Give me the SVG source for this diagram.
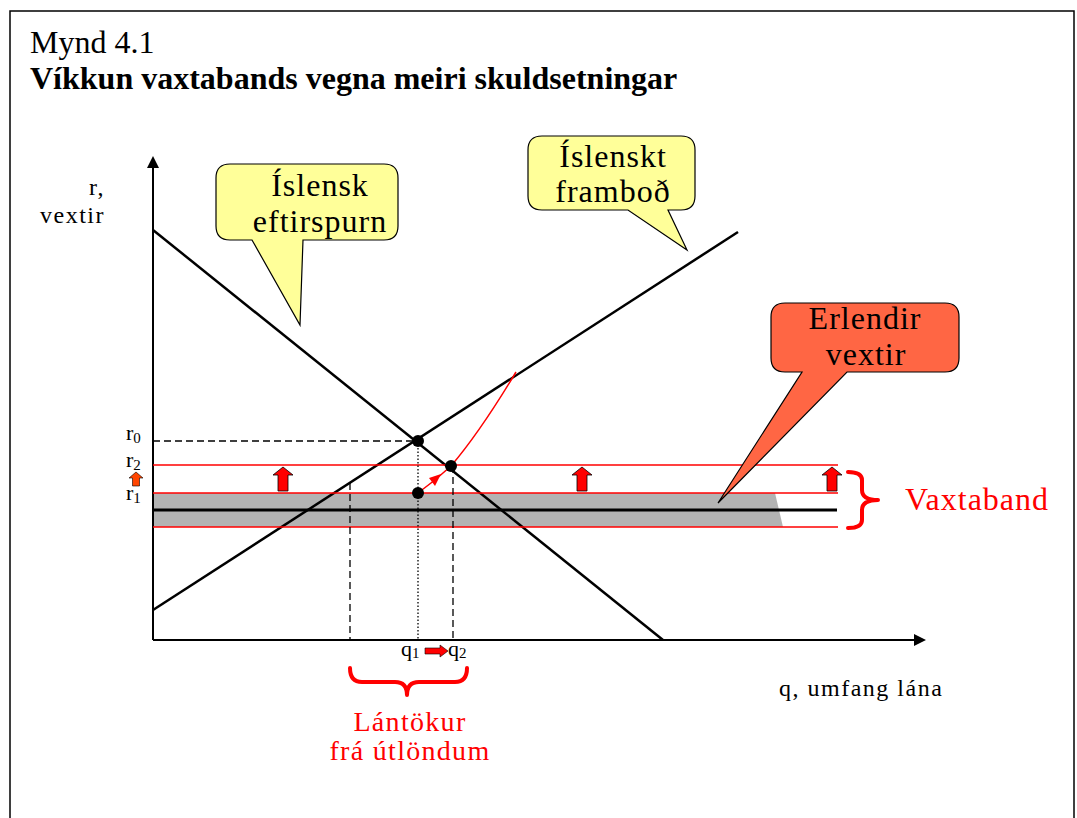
<svg xmlns="http://www.w3.org/2000/svg" width="1077" height="818" viewBox="0 0 1077 818">
<defs>
<style>
text{font-family:"Liberation Serif","Times New Roman",serif;}
.lbl{font-size:24px;letter-spacing:1.5px;fill:#000;}
.bub{font-size:32px;letter-spacing:1px;fill:#000;text-anchor:middle;}
.red{fill:#FF0000;}
.ax{font-size:22px;fill:#000;}
.sub{font-size:15px;}
.rl{stroke:#FF0000;stroke-width:1.5;fill:none;}
.blk{stroke:#000;stroke-width:2.5;fill:none;}
.uparrow{fill:#FF0000;stroke:#000;stroke-width:0.8;}
.brace{stroke:#FF0000;stroke-width:4;fill:none;stroke-linecap:round;stroke-linejoin:round;}
</style>
</defs>
<rect x="0" y="0" width="1077" height="818" fill="#fff"/>
<rect x="10" y="11" width="1064" height="840" fill="none" stroke="#000" stroke-width="1.5"/>
<text x="30" y="53" style="font-size:32px">Mynd 4.1</text>
<text x="30" y="89" style="font-size:32px;font-weight:bold">Víkkun vaxtabands vegna meiri skuldsetningar</text>

<g id="band">
<polygon points="153,493 775,493 783,527 153,527" fill="#B3B3B3"/>
</g>

<g id="connectors">
<line x1="153" y1="640" x2="153" y2="166" stroke="#000" stroke-width="2"/>
<polygon points="153,156 147,168 159,168" fill="#000"/>
<line x1="153" y1="640" x2="915" y2="640" stroke="#000" stroke-width="2"/>
<polygon points="926,640 914,634 914,646" fill="#000"/>
<line x1="153" y1="230" x2="663" y2="640" class="blk"/>
<line x1="153" y1="610" x2="738" y2="232" class="blk"/>
<line x1="153" y1="441" x2="418" y2="441" stroke="#000" stroke-width="1.3" stroke-dasharray="7,4"/>
<line x1="153" y1="465" x2="838" y2="465" class="rl"/>
<line x1="153" y1="493" x2="838" y2="493" class="rl"/>
<line x1="153" y1="527" x2="838" y2="527" class="rl"/>
<line x1="153" y1="510" x2="837" y2="510" stroke="#000" stroke-width="3"/>
<line x1="350" y1="483" x2="350" y2="640" stroke="#000" stroke-width="1.3" stroke-dasharray="7,4"/>
<line x1="418" y1="441" x2="418" y2="640" stroke="#000" stroke-width="1.3" stroke-dasharray="1.5,2"/>
<line x1="453" y1="466" x2="453" y2="640" stroke="#000" stroke-width="1.3" stroke-dasharray="7,4"/>
<path d="M451,466 Q480,432 516,372" class="rl" stroke-width="2"/>
<path d="M418,493 Q436,480 451,466" class="rl" stroke-width="2"/>
<polygon points="441,474 435,486 429,478" fill="#FF0000"/>
<circle cx="418" cy="441" r="6" fill="#000"/>
<circle cx="451" cy="466" r="6" fill="#000"/>
<circle cx="418" cy="493" r="6" fill="#000"/>
<polygon class="uparrow" points="283,467 293,475 288,475 288,491 278,491 278,475 273,475"/>
<polygon class="uparrow" points="582,467 592,475 587,475 587,491 577,491 577,475 572,475"/>
<polygon class="uparrow" points="832,467 842,475 837,475 837,491 827,491 827,475 822,475"/>
<polygon points="136,472 143,478 139.5,478 139.5,486 132.5,486 132.5,478 129,478" fill="#FF4500" stroke="#000" stroke-width="0.6"/>
<polygon points="448,651 440,645 440,648 425,648 425,654 440,654 440,657" fill="#FF0000" stroke="#000" stroke-width="0.6"/>
<path class="brace" d="M848,472 Q862,472 862,480 L862,490 Q862,500 878,500 Q862,500 862,510 L862,520 Q862,528 848,528"/>
<path class="brace" d="M350,668 Q350,682 362,682 L395,682 Q407,682 407,695 Q407,682 419,682 L455,682 Q467,682 467,668"/>
</g>

<g id="bubble-demand">
<path d="M230,164 H384 Q398,164 398,178 V226 Q398,240 384,240 H303 L300,325 L252,240 H230 Q216,240 216,226 V178 Q216,164 230,164 Z" fill="#FFFF99" stroke="#000" stroke-width="1.2"/>
<text class="bub" x="320" y="196">Íslensk</text>
<text class="bub" x="320" y="232">eftirspurn</text>
</g>
<g id="bubble-supply">
<path d="M542,136 H681 Q695,136 695,150 V196 Q695,210 681,210 H668 L687,250 L628,210 H542 Q528,210 528,196 V150 Q528,136 542,136 Z" fill="#FFFF99" stroke="#000" stroke-width="1.2"/>
<text class="bub" x="613" y="167">Íslenskt</text>
<text class="bub" x="613" y="202">framboð</text>
</g>
<g id="bubble-foreign">
<path d="M785,303 H945 Q959,303 959,317 V358 Q959,372 945,372 H847 L718,503 L802,372 H785 Q771,372 771,358 V317 Q771,303 785,303 Z" fill="#FF6644" stroke="#000" stroke-width="1.2"/>
<text class="bub" x="865" y="329">Erlendir</text>
<text class="bub" x="866" y="365">vextir</text>
</g>

<g id="labels">
<text class="lbl" x="105" y="195" text-anchor="end">r,</text>
<text class="lbl" x="105" y="223" text-anchor="end">vextir</text>
<text class="lbl" x="779" y="696">q, umfang lána</text>
<text class="ax" x="126" y="440">r<tspan class="sub" dy="3">0</tspan></text>
<text class="ax" x="126" y="467">r<tspan class="sub" dy="3">2</tspan></text>
<text class="ax" x="126" y="500">r<tspan class="sub" dy="3">1</tspan></text>
<text class="ax" x="401" y="656">q<tspan class="sub" dy="2">1</tspan></text>
<text class="ax" x="448" y="656">q<tspan class="sub" dy="2">2</tspan></text>
<text class="red" x="905" y="510" style="font-size:32px;letter-spacing:1px">Vaxtaband</text>
<text class="red" x="410" y="731" text-anchor="middle" style="font-size:28px;letter-spacing:1.3px">Lántökur</text>
<text class="red" x="410" y="760" text-anchor="middle" style="font-size:28px;letter-spacing:1.3px">frá útlöndum</text>
</g>
</svg>
